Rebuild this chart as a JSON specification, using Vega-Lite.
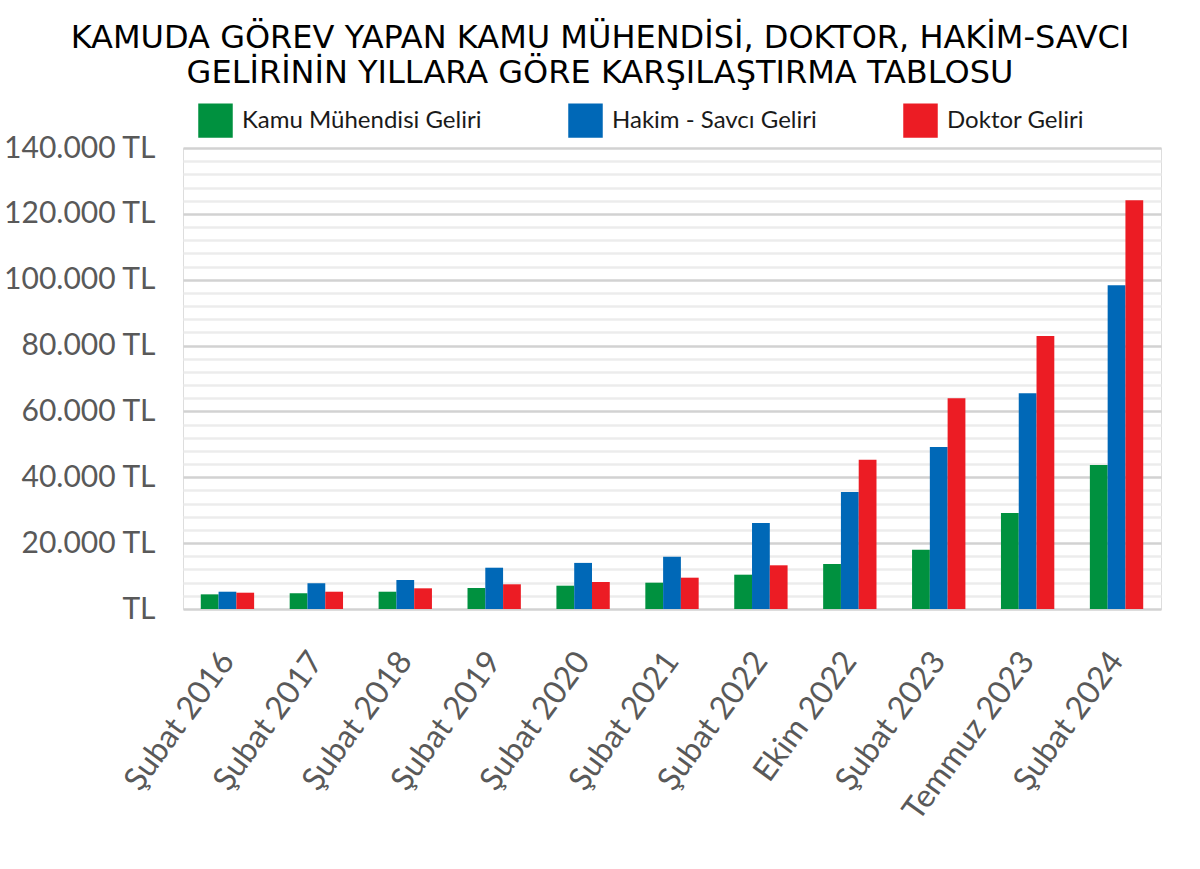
{
  "$schema": "https://vega.github.io/schema/vega-lite/v6.json",
  "autosize": {"type": "none"},
  "width": 978,
  "height": 461,
  "padding": {"left": 183, "top": 148, "right": 39, "bottom": 260},
  "background": "white",
  "title": {
    "text": ["KAMUDA GÖREV YAPAN KAMU MÜHENDİSİ, DOKTOR, HAKİM-SAVCI", "GELİRİNİN YILLARA GÖRE KARŞILAŞTIRMA TABLOSU"],
    "anchor": "middle",
    "frame": "group",
    "dx": -72,
    "offset": 13,
    "font": "DejaVu Sans",
    "fontSize": 32,
    "fontWeight": "normal",
    "color": "#000000",
    "lineHeight": 35
  },
  "data": {
    "values": [
      {"period": "Şubat 2016", "series": "Kamu Mühendisi Geliri", "value": 4450},
      {"period": "Şubat 2016", "series": "Hakim - Savcı Geliri", "value": 5250},
      {"period": "Şubat 2016", "series": "Doktor Geliri", "value": 4950},
      {"period": "Şubat 2017", "series": "Kamu Mühendisi Geliri", "value": 4770},
      {"period": "Şubat 2017", "series": "Hakim - Savcı Geliri", "value": 7800},
      {"period": "Şubat 2017", "series": "Doktor Geliri", "value": 5250},
      {"period": "Şubat 2018", "series": "Kamu Mühendisi Geliri", "value": 5250},
      {"period": "Şubat 2018", "series": "Hakim - Savcı Geliri", "value": 8800},
      {"period": "Şubat 2018", "series": "Doktor Geliri", "value": 6280},
      {"period": "Şubat 2019", "series": "Kamu Mühendisi Geliri", "value": 6380},
      {"period": "Şubat 2019", "series": "Hakim - Savcı Geliri", "value": 12540},
      {"period": "Şubat 2019", "series": "Doktor Geliri", "value": 7500},
      {"period": "Şubat 2020", "series": "Kamu Mühendisi Geliri", "value": 7080},
      {"period": "Şubat 2020", "series": "Hakim - Savcı Geliri", "value": 14000},
      {"period": "Şubat 2020", "series": "Doktor Geliri", "value": 8200},
      {"period": "Şubat 2021", "series": "Kamu Mühendisi Geliri", "value": 7990},
      {"period": "Şubat 2021", "series": "Hakim - Savcı Geliri", "value": 15880},
      {"period": "Şubat 2021", "series": "Doktor Geliri", "value": 9510},
      {"period": "Şubat 2022", "series": "Kamu Mühendisi Geliri", "value": 10420},
      {"period": "Şubat 2022", "series": "Hakim - Savcı Geliri", "value": 26120},
      {"period": "Şubat 2022", "series": "Doktor Geliri", "value": 13270},
      {"period": "Ekim 2022", "series": "Kamu Mühendisi Geliri", "value": 13670},
      {"period": "Ekim 2022", "series": "Hakim - Savcı Geliri", "value": 35530},
      {"period": "Ekim 2022", "series": "Doktor Geliri", "value": 45340},
      {"period": "Şubat 2023", "series": "Kamu Mühendisi Geliri", "value": 18010},
      {"period": "Şubat 2023", "series": "Hakim - Savcı Geliri", "value": 49200},
      {"period": "Şubat 2023", "series": "Doktor Geliri", "value": 63990},
      {"period": "Temmuz 2023", "series": "Kamu Mühendisi Geliri", "value": 29150},
      {"period": "Temmuz 2023", "series": "Hakim - Savcı Geliri", "value": 65500},
      {"period": "Temmuz 2023", "series": "Doktor Geliri", "value": 82900},
      {"period": "Şubat 2024", "series": "Kamu Mühendisi Geliri", "value": 43730},
      {"period": "Şubat 2024", "series": "Hakim - Savcı Geliri", "value": 98300},
      {"period": "Şubat 2024", "series": "Doktor Geliri", "value": 124100}
    ]
  },
  "mark": {"type": "bar"},
  "encoding": {
    "x": {
      "field": "period",
      "type": "nominal",
      "sort": ["Şubat 2016", "Şubat 2017", "Şubat 2018", "Şubat 2019", "Şubat 2020", "Şubat 2021", "Şubat 2022", "Ekim 2022", "Şubat 2023", "Temmuz 2023", "Şubat 2024"],
      "scale": {"paddingInner": 0.4, "paddingOuter": 0.2},
      "axis": {
        "title": null,
        "domain": false,
        "ticks": false,
        "grid": false,
        "labelAngle": -54,
        "labelAlign": "right",
        "labelBaseline": "middle",
        "labelFont": "Lato",
        "labelFontSize": 32,
        "labelColor": "#595959",
        "labelPadding": 46,
        "labelLimit": 400
      }
    },
    "xOffset": {
      "field": "series",
      "type": "nominal",
      "sort": ["Kamu Mühendisi Geliri", "Hakim - Savcı Geliri", "Doktor Geliri"]
    },
    "y": {
      "field": "value",
      "type": "quantitative",
      "scale": {"domain": [0, 140000], "nice": false},
      "axis": {
        "title": null,
        "domain": false,
        "ticks": false,
        "values": [0, 4000, 8000, 12000, 16000, 20000, 24000, 28000, 32000, 36000, 40000, 44000, 48000, 52000, 56000, 60000, 64000, 68000, 72000, 76000, 80000, 84000, 88000, 92000, 96000, 100000, 104000, 108000, 112000, 116000, 120000, 124000, 128000, 132000, 136000, 140000],
        "labelExpr": "datum.value == 0 ? 'TL' : (datum.value % 20000 == 0 ? format(datum.value / 1000, 'd') + '.000 TL' : '')",
        "labelOverlap": false,
        "labelFont": "Lato",
        "labelFontSize": 30,
        "labelColor": "#595959",
        "labelPadding": 28,
        "labelLimit": 300,
        "gridColor": {"condition": {"test": "datum.value % 20000 == 0", "value": "#d2d2d2"}, "value": "#ececec"},
        "gridWidth": 2.5
      }
    },
    "color": {
      "field": "series",
      "type": "nominal",
      "scale": {
        "domain": ["Kamu Mühendisi Geliri", "Hakim - Savcı Geliri", "Doktor Geliri"],
        "range": ["#00913f", "#0068b7", "#ec1c24"]
      },
      "legend": {
        "title": null,
        "orient": "none",
        "legendX": 15,
        "legendY": -45,
        "direction": "horizontal",
        "padding": 0,
        "symbolType": "square",
        "symbolSize": 1190,
        "symbolStrokeWidth": 0,
        "symbolOpacity": 1,
        "labelFont": "Lato",
        "labelFontSize": 24,
        "labelColor": "#1a1a1a",
        "labelOffset": 9,
        "labelLimit": 400,
        "columnPadding": 86
      }
    }
  }
}
